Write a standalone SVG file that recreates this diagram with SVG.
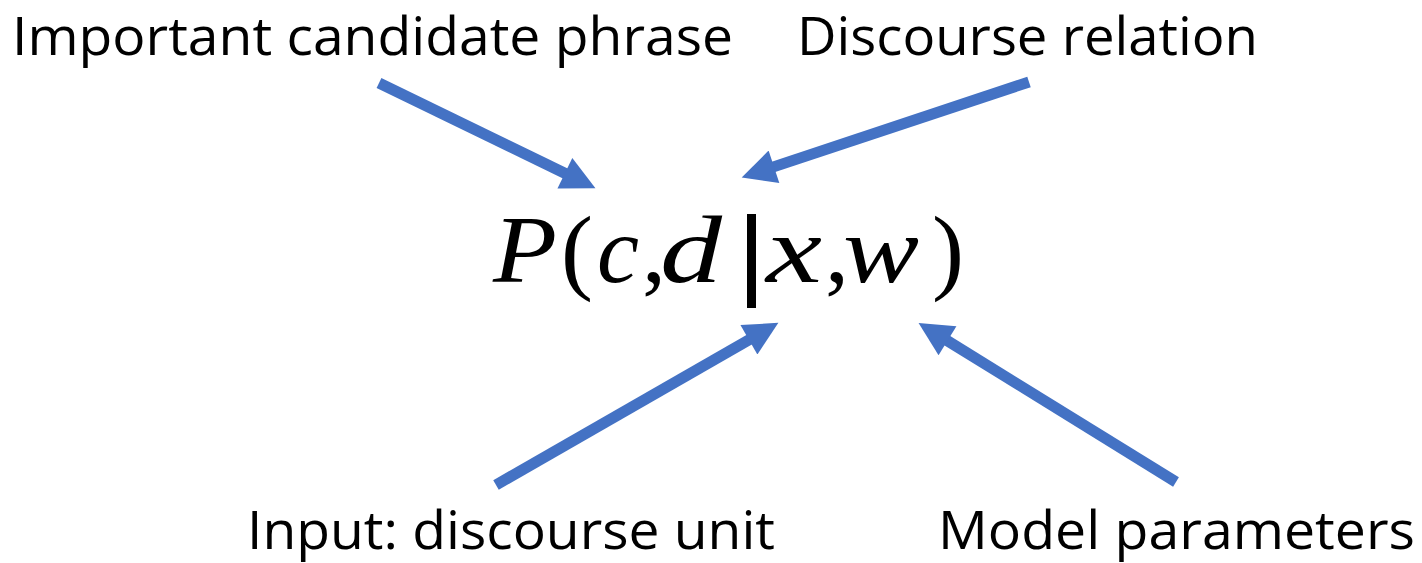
<svg xmlns="http://www.w3.org/2000/svg" width="1422" height="563" viewBox="0 0 1422 563">
<style>
.lbl{font-family:"Open Sans","Liberation Sans",sans-serif;font-size:53px;fill:#000}
.mi{font-family:"Liberation Serif","DejaVu Serif",serif;font-style:italic;font-size:96px;fill:#000}
.mu{font-family:"Liberation Serif","DejaVu Serif",serif;font-size:96px;fill:#000}
.conn{stroke:#4472C4;stroke-width:11;fill:none;marker-end:url(#ah)}
</style>
<defs>
<marker id="ah" viewBox="0 0 10 10" refX="2" refY="5" markerUnits="userSpaceOnUse" markerWidth="36" markerHeight="34" orient="auto">
<path d="M0,0 L10,5 L0,10 z" fill="#4472C4"/>
</marker>
</defs>
<rect width="1422" height="563" fill="#fff"/>
<g id="connectors">
<line class="conn" x1="379" y1="83" x2="571" y2="176.3"/>
<line class="conn" x1="1029" y1="82" x2="767.5" y2="168.9"/>
<line class="conn" x1="496" y1="485" x2="754.8" y2="336.4"/>
<line class="conn" x1="1176" y1="482" x2="941.7" y2="337.2"/>
</g>
<g id="important-candidate-phrase"><text class="lbl" x="12" y="55" textLength="721" lengthAdjust="spacingAndGlyphs">Important candidate phrase</text></g>
<g id="discourse-relation"><text class="lbl" x="797" y="55" textLength="461" lengthAdjust="spacingAndGlyphs">Discourse relation</text></g>
<g id="input-discourse-unit"><text class="lbl" x="247" y="549" textLength="528" lengthAdjust="spacingAndGlyphs">Input: discourse unit</text></g>
<g id="model-parameters"><text class="lbl" x="938" y="549" textLength="477" lengthAdjust="spacingAndGlyphs">Model parameters</text></g>
<g id="formula">
<text class="mi" x="493" y="282" textLength="64" lengthAdjust="spacingAndGlyphs">P</text>
<text class="mu" x="561" y="282">(</text>
<text class="mi" x="597" y="282" textLength="42" lengthAdjust="spacingAndGlyphs">c</text>
<text class="mu" x="642" y="282">,</text>
<text class="mi" x="660" y="282" textLength="62" lengthAdjust="spacingAndGlyphs">d</text>
<rect x="747" y="214" width="9" height="94" fill="#000"/>
<text class="mi" x="766" y="282" textLength="56" lengthAdjust="spacingAndGlyphs">x</text>
<text class="mu" x="825" y="282">,</text>
<text class="mi" x="843" y="282" textLength="76" lengthAdjust="spacingAndGlyphs">w</text>
<text class="mu" x="932" y="282">)</text>
</g>
</svg>
